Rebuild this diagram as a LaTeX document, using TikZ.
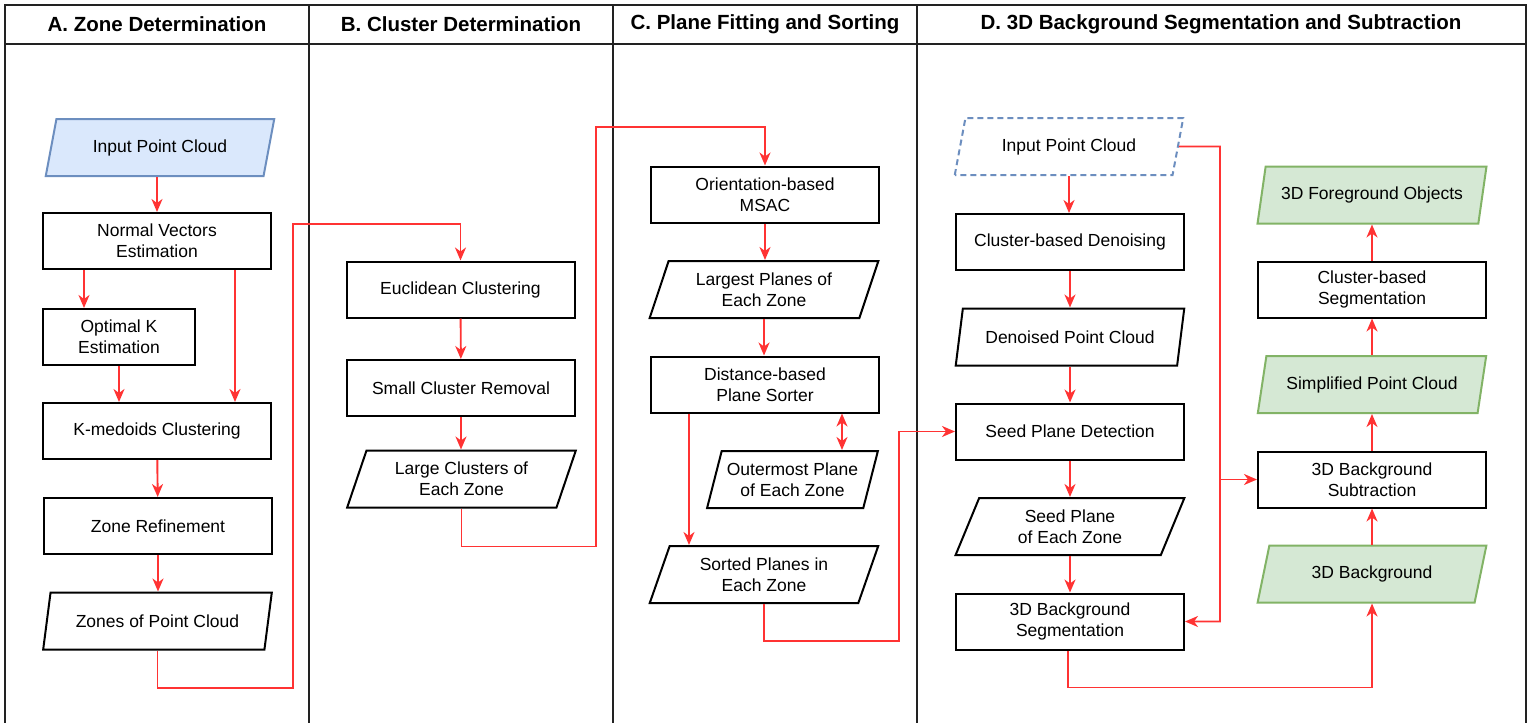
\documentclass[tikz,border=0pt]{standalone}
\usepackage{fontspec}
\setmainfont{Liberation Sans}
\usetikzlibrary{shapes.geometric,arrows.meta,calc}
\definecolor{linered}{HTML}{FF3333}
\definecolor{blueF}{HTML}{DAE8FC}
\definecolor{blueD}{HTML}{6C8EBF}
\definecolor{greenF}{HTML}{D5E8D4}
\definecolor{greenD}{HTML}{82B366}
\definecolor{framegray}{HTML}{222222}
\begin{document}
\begin{tikzpicture}[x=1pt,y=-1pt,
  txt/.style={font=\fontsize{17.5}{21}\selectfont, align=center, text=black},
  box/.style={txt, draw=black, line width=2pt, minimum width=228pt, minimum height=56pt, inner sep=2pt},
  para/.style={txt, trapezium, trapezium left angle=69, trapezium right angle=111, trapezium stretches=true, draw=black, line width=2pt, minimum width=229pt, minimum height=57pt, inner sep=1pt},
  arr/.style={draw=linered, line width=1.9pt, -{Stealth[length=13pt,width=11pt,inset=4pt]}},
  dblarr/.style={draw=linered, line width=1.9pt, {Stealth[length=13pt,width=11pt,inset=4pt]}-{Stealth[length=13pt,width=11pt,inset=4pt]}},
  frame/.style={draw=framegray, line width=2.2pt},
  head/.style={font=\bfseries\fontsize{20.5}{24}\selectfont, text=black}
]
\useasboundingbox (0,0) rectangle (1532,723);
% frame
\draw[frame] (5,728) -- (5,5) -- (1526,5) -- (1526,728);
\draw[frame] (5,44) -- (1526,44);
\draw[frame] (309,5) -- (309,728);
\draw[frame] (613,5) -- (613,728);
\draw[frame] (917,5) -- (917,728);
\node[head] (hA) at (157,24) {A. Zone Determination};
\node[head] (hB) at (461,24) {B. Cluster Determination};
\node[head] (hC) at (765,24) {C. Plane Fitting and Sorting};
\node[head] (hD) at (1221,24) {D. 3D Background Segmentation and Subtraction};
% column A
\node[para, fill=blueF, draw=blueD] (inA) at (160,147.5) {Input Point Cloud};
\node[box] (nve) at (157,241) {Normal Vectors\\Estimation};
\node[box, minimum width=152pt] (optk) at (119,337) {Optimal K\\Estimation};
\node[box] (kmed) at (157,431) {K-medoids Clustering};
\node[box] (zref) at (158,526) {Zone Refinement};
\node[para] (zones) at (157.5,621) {Zones of Point Cloud};
% column B
\node[box] (eucl) at (460.5,289.5) {Euclidean Clustering};
\node[box] (scr) at (461,388) {Small Cluster Removal};
\node[para] (lcez) at (461.5,479) {Large Clusters of\\Each Zone};
% column C
\node[box] (msac) at (765,194.5) {Orientation-based\\MSAC};
\node[para] (lpez) at (764,289.5) {Largest Planes of\\Each Zone};
\node[box] (dps) at (765,384.5) {Distance-based\\Plane Sorter};
\node[para, minimum width=171pt] (ope) at (792.5,479.5) {Outermost Plane\\of Each Zone};
\node[para] (spez) at (764,574.5) {Sorted Planes in\\Each Zone};
% column D
\node[para, fill=none, draw=blueD, dashed, dash pattern=on 6pt off 4pt] (inD) at (1069,146.5) {Input Point Cloud};
\node[box] (cbd) at (1070,242) {Cluster-based Denoising};
\node[para] (dpc) at (1070,337) {Denoised Point Cloud};
\node[box] (spd) at (1070,431.5) {Seed Plane Detection};
\node[para] (spz) at (1070,526.5) {Seed Plane\\of Each Zone};
\node[box] (bgs) at (1070,621.5) {3D Background\\Segmentation};
\node[para, fill=greenF, draw=greenD] (fgo) at (1372,195) {3D Foreground Objects};
\node[box] (cbs) at (1372,289.5) {Cluster-based\\Segmentation};
\node[para, fill=greenF, draw=greenD] (spc) at (1372,384.5) {Simplified Point Cloud};
\node[box] (bgsub) at (1372,479.5) {3D Background\\Subtraction};
\node[para, fill=greenF, draw=greenD] (bg) at (1372,574) {3D Background};
% connectors A
\draw[arr] (inA.south -| nve.north) -- (nve.north);
\draw[arr] ([xshift=-73pt]nve.south) -- ([xshift=-73pt]nve.south |- optk.north);
\draw[arr] ([xshift=78pt]nve.south) -- ([xshift=78pt]nve.south |- kmed.north);
\draw[arr] (optk.south) -- (optk.south |- kmed.north);
\draw[arr] (kmed) -- (zref);
\draw[arr] (zref.south) -- (zref.south |- zones.north);
\draw[arr] (zones.south) -- ++(0,37.5) -| (293,224) -| (eucl.north);
% connectors B
\draw[arr] (eucl) -- (scr);
\draw[arr] (scr.south) -- (scr.south |- lcez.north);
\draw[arr] (lcez.south) -- ++(0,38) -| (596,127) -| (msac.north);
% connectors C
\draw[arr] (msac.south) -- (msac.south |- lpez.north);
\draw[arr] (lpez.north |- lpez.south) -- (lpez.south |- dps.north);
\draw[dblarr] ([xshift=77pt]dps.south) -- ([xshift=77pt]dps.south |- ope.north);
\draw[arr] ([xshift=-76pt]dps.south) -- ([xshift=-76pt]dps.south |- spez.north);
\draw[arr] (spez.south) -- ++(0,37) -| (899,431.5) -- (spd.west);
% connectors D
\draw[arr] (inD.south) -- (inD.south |- cbd.north);
\draw[arr] (cbd.south) -- (cbd.south |- dpc.north);
\draw[arr] (dpc.south) -- (dpc.south |- spd.north);
\draw[arr] (spd.south) -- (spd.south |- spz.north);
\draw[arr] (spz.south) -- (spz.south |- bgs.north);
\draw[arr] (inD.east) -- (1220,146.5) |- (bgs.east);
\draw[arr] (1220,479.5) -- (bgsub.west);
\draw[arr] ([xshift=-2pt]bgs.south) -- ++(0,37) -| (bg.south);
\draw[arr] (bg.north) -- (bg.north |- bgsub.south);
\draw[arr] (bgsub.north) -- (bgsub.north |- spc.south);
\draw[arr] (spc.north) -- (spc.north |- cbs.south);
\draw[arr] (cbs.north) -- (cbs.north |- fgo.south);
\end{tikzpicture}
\end{document}
